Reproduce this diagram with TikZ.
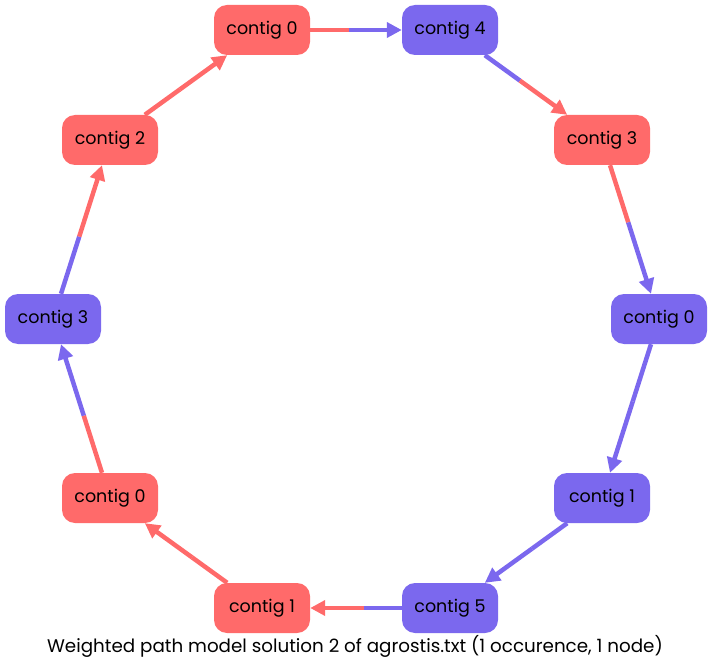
\documentclass[tikz,border=0pt]{standalone}
\usepackage{fontspec}
\setmainfont{Poppins}
\usetikzlibrary{arrows.meta,calc}
\definecolor{cred}{HTML}{FF6A6A}
\definecolor{cblue}{HTML}{7B68EE}
\tikzset{
  nd/.style={rounded corners=13pt, minimum width=96pt, minimum height=50pt, inner sep=0pt, text=black, font=\fontsize{17.5}{20}\selectfont},
  rn/.style={nd, fill=cred},
  bn/.style={nd, fill=cblue},
  ed/.style={line width=4.5pt},
  tip/.style={-{Triangle[length=15pt,width=15pt]}},
  captext/.style={font=\fontsize{18.3}{21}\selectfont, text=black, inner sep=0pt}
}
\newcommand\hedge[4]{%
  \coordinate (m) at ($($(#1)!0.5!(#2)$)!7.5pt!(#1)$);
  \draw[ed,#3] (#1) -- (m);
  \draw[ed,#4,tip] (m) -- (#2);
}
\begin{document}
\begin{tikzpicture}[x=1pt,y=-1pt]
\useasboundingbox (0,0) rectangle (712,663);
\node[rn] (t0) at (262,30) {contig 0};
\node[bn] (t4) at (450,30) {contig 4};
\node[rn] (r3) at (602,140) {contig 3};
\node[bn] (r0) at (659,319) {contig 0};
\node[bn] (r1) at (602,498) {contig 1};
\node[bn] (b5) at (450,608) {contig 5};
\node[rn] (b1) at (262,608) {contig 1};
\node[rn] (l0) at (110,498) {contig 0};
\node[bn] (l3) at (53,319) {contig 3};
\node[rn] (l2) at (110,140) {contig 2};
\hedge{t0}{t4}{cred}{cblue}
\hedge{t4}{r3}{cblue}{cred}
\hedge{r3}{r0}{cred}{cblue}
\hedge{r0}{r1}{cblue}{cblue}
\hedge{r1}{b5}{cblue}{cblue}
\hedge{b5}{b1}{cblue}{cred}
\hedge{b1}{l0}{cred}{cred}
\hedge{l0}{l3}{cred}{cblue}
\hedge{l3}{l2}{cblue}{cred}
\hedge{l2}{t0}{cred}{cred}
\node[captext] (caption) at (355,646) {Weighted path model solution 2 of agrostis.txt (1 occurence, 1 node)};
\end{tikzpicture}
\end{document}
